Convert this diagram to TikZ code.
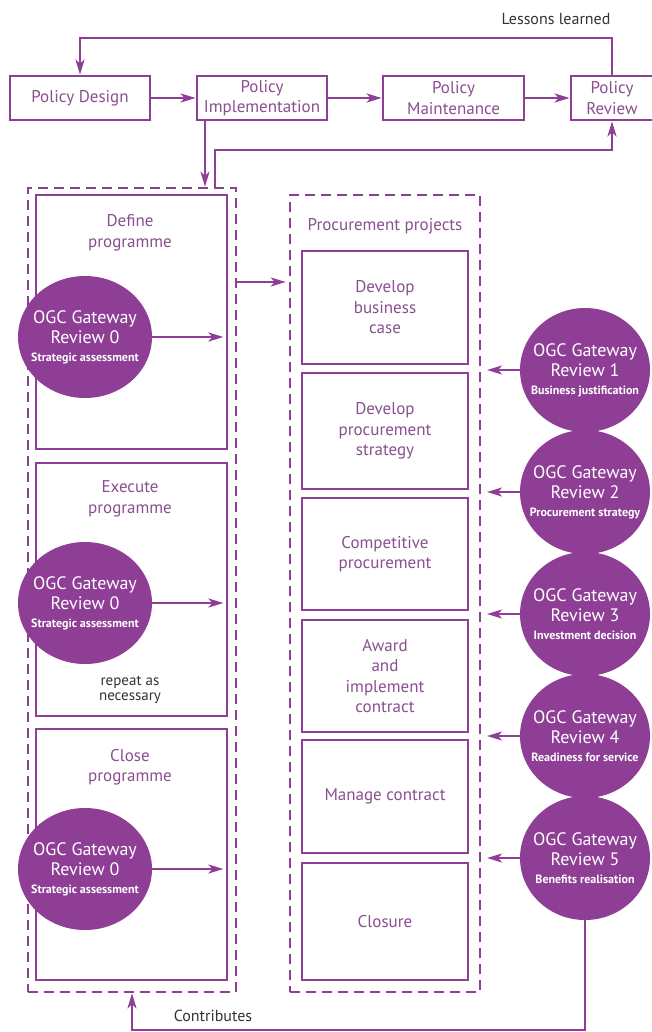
\documentclass[tikz,border=0pt]{standalone}
\usepackage{fontspec}
\setmainfont{PT Sans}
\usetikzlibrary{arrows.meta,shapes.geometric}
\definecolor{pur}{HTML}{8E3E95}
\definecolor{ptext}{HTML}{8A4F90}
\definecolor{dgray}{HTML}{333333}
\newcommand\gsmall{\fontsize{12}{13}\selectfont\bfseries}
\begin{document}
\begin{tikzpicture}[x=1pt,y=-1pt,
  box/.style={draw=pur,line width=2.8pt,inner sep=0pt,text=ptext,font=\fontsize{17}{20.5}\selectfont,align=center},
  txt/.style={text=ptext,font=\fontsize{17}{20.5}\selectfont,align=center,inner sep=0pt},
  dashbox/.style={draw=pur,line width=2.6pt,dash pattern=on 10pt off 6pt,inner sep=0pt},
  gate/.style={ellipse,fill=pur,inner sep=0pt},
  gtxt/.style={text=white,inner sep=0pt,align=center,font=\fontsize{18}{20}\selectfont},
  conn/.style={draw=pur,line width=2.2pt},
  arr/.style={conn,-{Stealth[length=15pt,width=9pt,inset=4pt]}},
  note/.style={text=dgray,font=\fontsize{16}{17}\selectfont,align=center,inner sep=0pt}]
\useasboundingbox (0,0) rectangle (652,1032);
\fill[white] (0,0) rectangle (652,1032);
% top row
\node[box,minimum width=140pt,minimum height=44pt] (pd) at (80,98) {Policy Design};
\node[box,minimum width=130pt,minimum height=44pt] (pi) at (262,98) {Policy\\Implementation};
\node[box,minimum width=141pt,minimum height=44pt] (pm) at (453.5,98) {Policy\\Maintenance};
\node[box,minimum width=82pt,minimum height=44pt] (pr) at (612,98) {Policy\\Review};
\node[note] (ll) at (556,19) {Lessons learned};
\coordinate (topl) at (300,38);
\coordinate (midl) at (400,150);
\draw[arr] (pr.north) -- (pr.north |- topl) -| (pd.north);
\draw[arr] (pd.east) -- (pi.west);
\draw[arr] (pi.east) -- (pm.west);
\draw[arr] (pm.east) -- (pr.west);
% containers
\node[dashbox,minimum width=208pt,minimum height=804pt] (lc) at (132,590) {};
\node[dashbox,minimum width=190pt,minimum height=797pt] (rc) at (385,593.5) {};
\draw[arr] ([xshift=-57pt]pi.south) -- ([xshift=-57pt]pi.south |- lc.north);
\draw[arr] ([xshift=83pt]lc.north) |- (midl) -| (pr.south);
% left boxes
\node[box,minimum width=191pt,minimum height=254pt] (def) at (131.5,322) {};
\node[box,minimum width=191pt,minimum height=253pt] (exe) at (131.5,589.5) {};
\node[box,minimum width=191pt,minimum height=251pt] (clo) at (131.5,854.5) {};
\node[txt] (deft) at (130,233) {Define\\programme};
\node[txt] (exet) at (130,499) {Execute\\programme};
\node[txt] (clot) at (130,767) {Close\\programme};
\node[note,font=\fontsize{15}{15}\selectfont] (rep) at (130,690) {repeat as\\necessary};
\node[gate,minimum width=134pt,minimum height=122pt] (g0a) at (85,337) {};
\node[gate,minimum width=134pt,minimum height=122pt] (g0b) at (85,603) {};
\node[gate,minimum width=134pt,minimum height=122pt] (g0c) at (85,869) {};
\node[gtxt] (g0at) at (g0a) {OGC Gateway\\Review 0\\[-2pt]{\gsmall Strategic assessment}};
\node[gtxt] (g0bt) at (g0b) {OGC Gateway\\Review 0\\[-2pt]{\gsmall Strategic assessment}};
\node[gtxt] (g0ct) at (g0c) {OGC Gateway\\Review 0\\[-2pt]{\gsmall Strategic assessment}};
\draw[arr] (g0a.east) -- ([xshift=-5pt]def.east |- g0a.east);
\draw[arr] (g0b.east) -- ([xshift=-5pt]exe.east |- g0b.east);
\draw[arr] (g0c.east) -- ([xshift=-5pt]clo.east |- g0c.east);
% right boxes
\node[txt] (ppt) at (385,226) {Procurement projects};
\node[box,minimum width=166pt,minimum height=113pt] (bc) at (385,307.5) {Develop\\business\\case};
\node[box,minimum width=166pt,minimum height=116pt] (ps) at (385,431) {Develop\\procurement\\strategy};
\node[box,minimum width=166pt,minimum height=112pt] (cp) at (385,554) {Competitive\\procurement};
\node[box,minimum width=166pt,minimum height=112pt] (aw) at (385,676) {Award\\and\\implement\\contract};
\node[box,minimum width=166pt,minimum height=113pt] (mc) at (385,796.5) {Manage contract};
\node[box,minimum width=166pt,minimum height=117pt] (cl) at (385,921.5) {Closure};
\coordinate (ly) at (0,282);
\draw[arr] (lc.east |- ly) -- ([xshift=-3pt]rc.west |- ly);
% right gates
\node[gate,minimum width=130pt,minimum height=124pt] (g1) at (585,370) {};
\node[gate,minimum width=130pt,minimum height=124pt] (g2) at (585,492) {};
\node[gate,minimum width=130pt,minimum height=124pt] (g3) at (585,614) {};
\node[gate,minimum width=130pt,minimum height=124pt] (g4) at (585,736) {};
\node[gate,minimum width=130pt,minimum height=124pt] (g5) at (585,858) {};
\node[gtxt] (g1t) at (g1) {OGC Gateway\\Review 1\\[-2pt]{\gsmall Business justification}};
\node[gtxt] (g2t) at (g2) {OGC Gateway\\Review 2\\[-2pt]{\gsmall Procurement strategy}};
\node[gtxt] (g3t) at (g3) {OGC Gateway\\Review 3\\[-2pt]{\gsmall Investment decision}};
\node[gtxt] (g4t) at (g4) {OGC Gateway\\Review 4\\[-2pt]{\gsmall Readiness for service}};
\node[gtxt] (g5t) at (g5) {OGC Gateway\\Review 5\\[-2pt]{\gsmall Benefits realisation}};
\coordinate (rx) at (487,0);
\foreach \g in {g1,g2,g3,g4,g5} {\draw[arr] (\g.west) -- (\g.west -| rx);}
% bottom
\coordinate (bot) at (0,1030);
\draw[arr] (g5.south) -- (g5.south |- bot) -| (lc.south);
\node[note] (contr) at (213,1016) {Contributes};
\end{tikzpicture}
\end{document}
